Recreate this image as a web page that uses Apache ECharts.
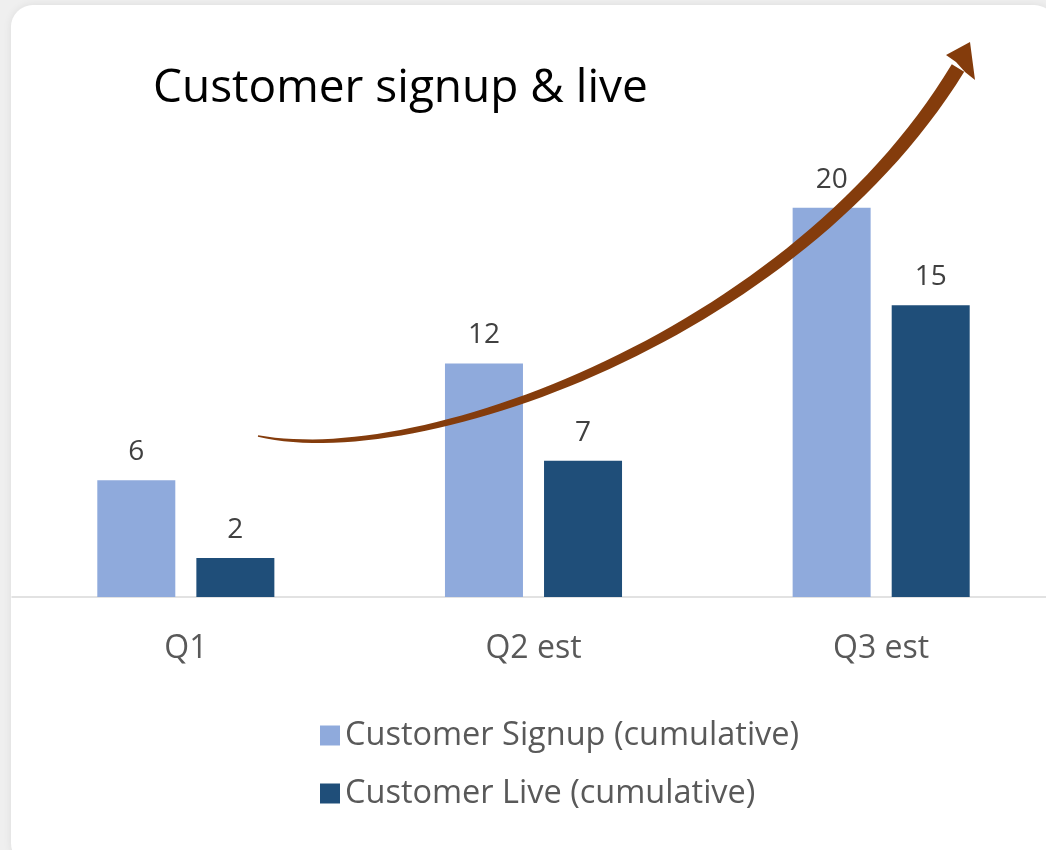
<!DOCTYPE html>
<html>
<head>
<meta charset="utf-8">
<script src="https://cdn.jsdelivr.net/npm/echarts@6/dist/echarts.min.js"></script>
<style>
  html, body { margin: 0; padding: 0; background: #efefef; }
  #chart { width: 1046px; height: 850px; }
</style>
</head>
<body>
<div id="chart"></div>
<script>
// data
const quarters = ['Q1', 'Q2 est', 'Q3 est'];
const signupValues = [6, 12, 20];
const liveValues = [2, 7, 15];
const seriesNames = ['Customer Signup (cumulative)', 'Customer Live (cumulative)'];

const FONT = '"Open Sans", "Noto Sans", sans-serif';

// tapered growth arrow (decoration, not data)
function arrowPoints() {
  const p0 = [258, 436], p1 = [420, 470], p2 = [795, 335], p3 = [958, 68];
  const n = 60;
  const left = [], right = [];
  for (let i = 0; i <= n; i++) {
    const t = i / n, u = 1 - t;
    const x = u*u*u*p0[0] + 3*u*u*t*p1[0] + 3*u*t*t*p2[0] + t*t*t*p3[0];
    const y = u*u*u*p0[1] + 3*u*u*t*p1[1] + 3*u*t*t*p2[1] + t*t*t*p3[1];
    const dx = 3*u*u*(p1[0]-p0[0]) + 6*u*t*(p2[0]-p1[0]) + 3*t*t*(p3[0]-p2[0]);
    const dy = 3*u*u*(p1[1]-p0[1]) + 6*u*t*(p2[1]-p1[1]) + 3*t*t*(p3[1]-p2[1]);
    const len = Math.sqrt(dx*dx + dy*dy);
    const w = (1.5 + 13 * Math.pow(t, 0.8)) / 2;
    const nx = -dy / len, ny = dx / len;
    left.push([x + nx*w, y + ny*w]);
    right.push([x - nx*w, y - ny*w]);
  }
  return left.concat(right.reverse());
}

const chart = echarts.init(document.getElementById('chart'));
chart.setOption({
  backgroundColor: 'transparent',
  animation: false,
  title: {
    text: 'Customer signup & live',
    left: 148,
    top: 61,
    textStyle: { fontFamily: FONT, fontSize: 46, fontWeight: 'normal', color: '#000' }
  },
  legend: {
    orient: 'vertical',
    left: 315,
    top: 714,
    itemWidth: 20,
    itemHeight: 20,
    itemGap: 25,
    itemTextGap: 11,
    icon: 'rect',
    data: seriesNames,
    textStyle: { fontFamily: FONT, fontSize: 32.5, color: '#595959' }
  },
  grid: { left: 12, width: 1043, top: 130, bottom: 253, outerBoundsMode: 'none', containLabel: false },
  xAxis: {
    type: 'category',
    data: quarters,
    axisTick: { show: false },
    axisLine: { lineStyle: { color: '#d9d9d9', width: 1.5 } },
    axisLabel: { margin: 36, fontFamily: FONT, fontSize: 32, color: '#595959' }
  },
  yAxis: {
    type: 'value',
    min: 0,
    max: 24,
    show: false,
    splitLine: { show: false }
  },
  series: [
    {
      name: seriesNames[0],
      type: 'bar',
      data: signupValues,
      barWidth: 78,
      barGap: '27%',
      itemStyle: { color: '#8FAADC' },
      label: { show: true, position: 'top', distance: 14, fontFamily: FONT, fontSize: 28, color: '#404040' }
    },
    {
      name: seriesNames[1],
      type: 'bar',
      data: liveValues,
      barWidth: 78,
      barGap: '27%',
      itemStyle: { color: '#1F4E79' },
      label: { show: true, position: 'top', distance: 14, fontFamily: FONT, fontSize: 28, color: '#404040' }
    }
  ],
  graphic: [
    {
      type: 'rect',
      z: -10,
      silent: true,
      shape: { x: 11, y: 5, width: 1045, height: 860, r: 22 },
      style: { fill: '#ffffff', shadowBlur: 8, shadowColor: 'rgba(0,0,0,0.08)' }
    },
    {
      type: 'polygon',
      z: 100,
      silent: true,
      shape: { points: arrowPoints() },
      style: { fill: '#843C0C' }
    },
    {
      type: 'polygon',
      z: 100,
      silent: true,
      shape: { points: [[970, 42], [946, 55], [956, 62], [965, 72], [975, 80]] },
      style: { fill: '#843C0C' }
    }
  ]
});
</script>
</body>
</html>
